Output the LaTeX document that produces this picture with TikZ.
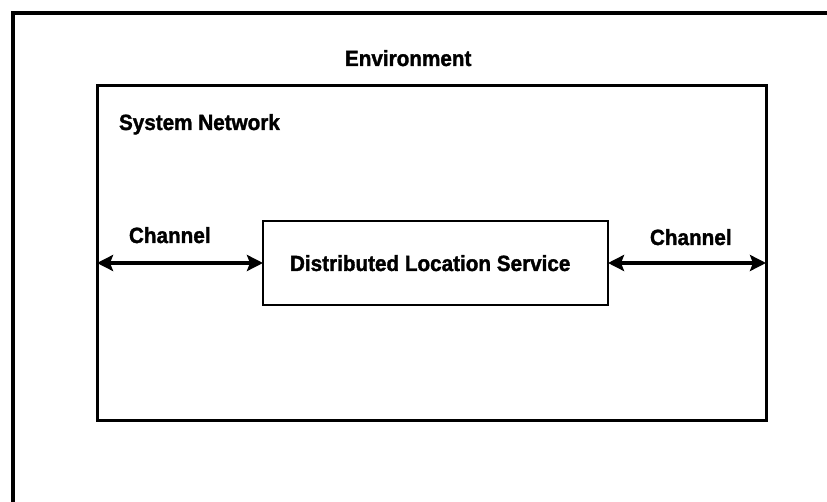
\documentclass[tikz,border=0pt]{standalone}
\usepackage{fontspec}
\setmainfont[FakeStretch=0.94,FakeBold=1.5]{Liberation Sans}
\usetikzlibrary{arrows.meta}

\tikzset{
  frame/.style={draw=black, rectangle, inner sep=0pt, outer sep=0pt},
  label text/.style={anchor=base west, inner sep=0pt, outer sep=0pt,
    font=\fontsize{22}{26}\selectfont\bfseries},
  link/.style={line width=4pt, {Stealth[length=16pt,width=16pt,inset=3pt]}-{Stealth[length=16pt,width=16pt,inset=3pt]}}
}

\begin{document}
\begin{tikzpicture}[x=1pt, y=-1pt]
  \useasboundingbox (0,0) rectangle (827,502);
  \fill[white] (0,0) rectangle (827,502);

  % environment frame (right and bottom edges run off the page)
  \node[frame, line width=3.5pt, minimum width=818pt, minimum height=493pt] (env) at (422,259.5) {};
  % system network
  \node[frame, line width=3pt, minimum width=669pt, minimum height=334pt] (net) at (431.5,253) {};
  % location service
  \node[frame, line width=2.5pt, minimum width=345pt, minimum height=84pt] (dls) at (435.5,263) {};

  \node[label text] (envlbl) at (345,66) {Environment};
  \node[label text] (netlbl) at (119,130) {System Network};
  \node[label text] (dlslbl) at (290,271) {Distributed Location Service};
  \node[label text] (chl) at (129,243) {Channel};
  \node[label text] (chr) at (650,245) {Channel};

  % channels
  \draw[link] (net.west |- dls.west) -- (dls.west);
  \draw[link] (dls.east) -- (net.east |- dls.east);
\end{tikzpicture}
\end{document}
